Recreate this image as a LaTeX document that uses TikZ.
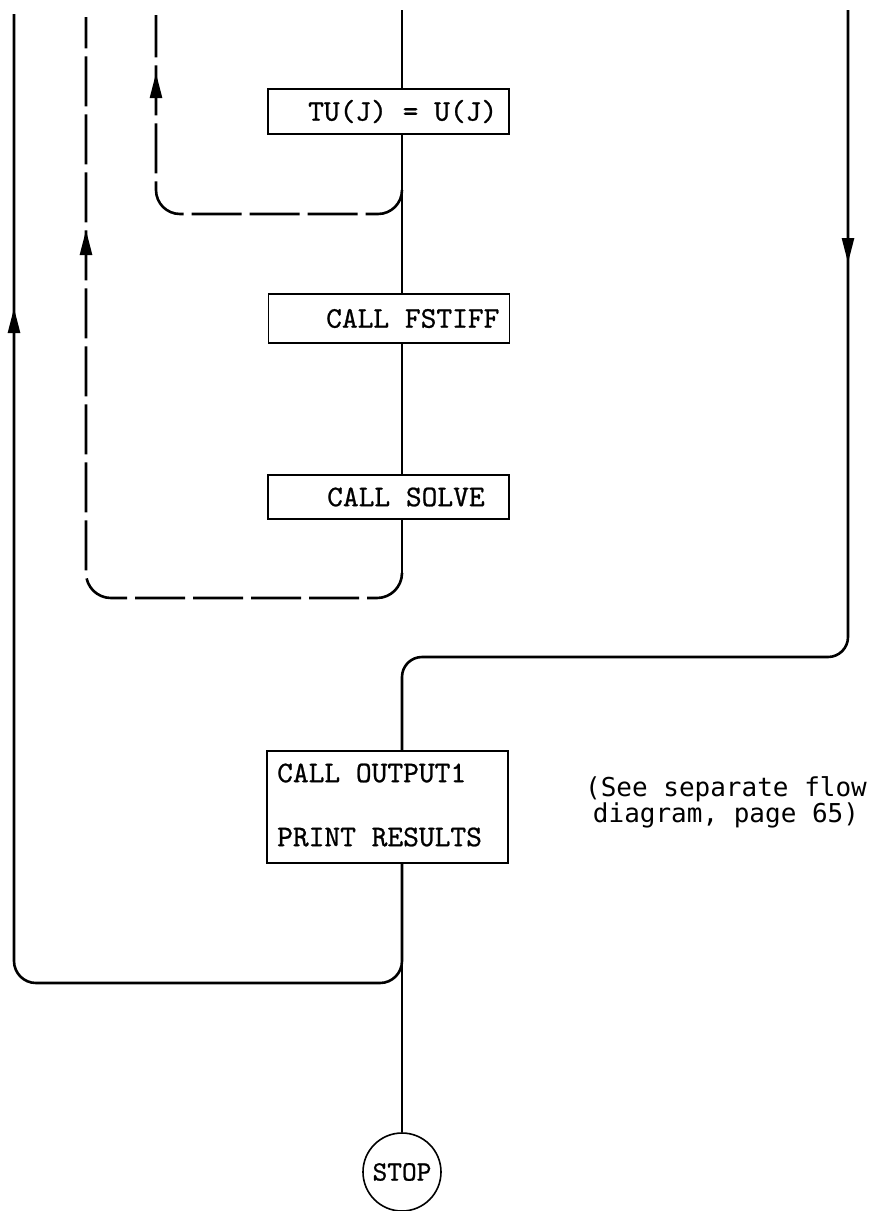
\documentclass[tikz,border=0pt]{standalone}
\usepackage{fontspec}
\newfontfamily\notefont{DejaVu Sans Mono}
\newfontfamily\boxfont[FakeBold=0.8]{lmmono10-regular.otf}
\usetikzlibrary{arrows.meta,decorations.markings}
\begin{document}
\begin{tikzpicture}[x=1pt,y=-1pt,
  line/.style={line width=2.6pt},
  dline/.style={line width=2.6pt, dash pattern=on 50pt off 8pt},
  box/.style={draw, line width=1.8pt, minimum width=241pt, inner sep=0pt},
  txt/.style={font=\fontsize{30}{30}\boxfont, inner sep=0pt, anchor=west},
  tipat/.style={postaction={decorate, decoration={markings,
      mark=at position #1 with {\arrow{Triangle[length=25pt,width=12pt]}}}}}
]
\useasboundingbox (0,0) rectangle (872,1211);

% boxes
\node[box, minimum height=45pt] (tu) at (388.5,111.5) {};
\node[txt] (tut) at (308,111.5) {TU(J) = U(J)};
\node[box, minimum height=49pt] (fs) at (389,318.5) {};
\node[txt] (fst) at (326,318.5) {CALL FSTIFF};
\node[box, minimum height=44pt] (sol) at (388.5,497) {};
\node[txt] (solt) at (327,497) {CALL SOLVE};
\node[box, minimum height=112pt] (out) at (387.5,807) {};
\node[txt] (out1) at (277,773) {CALL OUTPUT1};
\node[txt] (out2) at (277,837) {PRINT RESULTS};
\node[draw, circle, minimum size=78pt, inner sep=0pt, line width=1.6pt,
      font=\fontsize{28}{28}\boxfont] (stop) at (402,1172) {STOP};
\node[font=\fontsize{26}{26}\notefont, align=center] (note) at (726,802)
  {(See separate flow\\diagram, page 65)};

% coordinates
\coordinate (topM) at (402,10);
\coordinate (topR) at (848,10);
\coordinate (topL) at (14,14);
\coordinate (topS) at (86,17);
\coordinate (topT) at (156,15);
\coordinate (jT) at (402,214);
\coordinate (jS) at (402,598);
\coordinate (jR) at (402,657);
\coordinate (jL) at (402,983);

% main line
\draw[line] (topM) -- (tu.north -| topM);
\draw[line] (tu.south -| topM) -- (fs.north -| topM);
\draw[line] (fs.south -| topM) -- (sol.north -| topM);
\draw[line] (out.south -| topM) -- (stop.north);

% dashed loops
\draw[line] (tu.south -| topM) -- (402,190);
\draw[dline, rounded corners=24pt, tipat=-58pt] (402,190) -- (jT) -| (topT);
\draw[line] (sol.south -| topM) -- (402,574);
\draw[dline, rounded corners=25pt, tipat=-213pt] (402,574) -- (jS) -| (topS);

% right line into output
\draw[line, rounded corners=20pt, tipat=253pt] (topR) |- (jR) -- (out.north -| topM);

% left return loop
\draw[line, rounded corners=22pt, tipat=-294pt] (out.south -| topM) -- (jL) -| (topL);
\end{tikzpicture}
\end{document}
